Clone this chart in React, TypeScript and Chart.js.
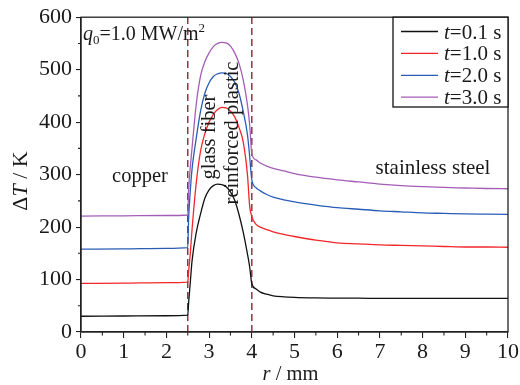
import { useEffect, useRef } from "react";
import { Chart, registerables } from "chart.js";

Chart.register(...registerables);

// r / mm
const radius = [0, 1, 2, 2.5, 2.52, 2.56, 2.6, 2.7, 2.8, 2.9, 3.0, 3.1, 3.2, 3.3, 3.4, 3.5, 3.6, 3.7, 3.8, 3.9, 3.95, 4.0, 4.1, 4.2, 4.35, 4.5, 4.75, 5, 5.5, 6, 6.5, 7, 7.5, 8, 8.5, 9, 9.5, 10];

// ΔT / K for each time
const dT_t01 = [30, 30.5, 31, 32, 55, 95, 135, 190, 225, 255, 271, 279, 282, 281, 277, 267, 251, 224, 190, 148, 124, 92, 82, 76, 72, 69, 67, 66, 65, 64.5, 64.5, 64, 64, 64, 64, 64, 64, 64];
const dT_t10 = [92.5, 93, 94, 95, 115, 150, 195, 285, 345, 378, 400, 415, 424, 428, 427, 421, 410, 390, 362, 298, 240, 220, 205, 200, 195, 191, 186, 182, 175, 170, 168, 166, 165, 164, 163, 162, 162, 161.5];
const dT_t20 = [158, 158.5, 159.5, 161, 215, 270, 310, 370, 421, 455, 475, 487, 492, 494, 493, 487, 476, 455, 420, 375, 335, 290, 275, 269, 262, 257, 252, 248, 242, 237, 234, 231, 229, 227, 226, 225, 224.5, 224];
const dT_t30 = [221, 221.5, 222, 223, 270, 315, 350, 435, 488, 515, 532, 544, 550, 552, 551, 545, 532, 512, 480, 432, 395, 340, 328, 322, 316, 312, 307, 302, 295, 290, 286, 282, 279, 277, 275.5, 274.5, 273.5, 273];

const seriesValues = [dT_t01, dT_t10, dT_t20, dT_t30];
const seriesTimes = ["0.1", "1.0", "2.0", "3.0"];
const seriesColors = ["#111111", "#f2262a", "#2a5cb6", "#a45db6"];

const boundaries = [2.5, 4.0];
const yMin = 0, yMax = 600, yStep = 100;
const xMin = 0, xMax = 10, xStep = 1;

const SERIF = '"Liberation Serif", "DejaVu Serif", "Times New Roman", serif';

type Part = { t: string; it?: boolean; sub?: boolean; sup?: boolean };

function fontFor(p: Part, size: number) {
  const s = p.sub || p.sup ? Math.round(size * 0.65) : size;
  return `${p.it ? "italic " : ""}${s}px ${SERIF}`;
}

function drawRich(ctx: CanvasRenderingContext2D, parts: Part[], x: number, y: number, size: number, align: "left" | "center" | "right") {
  ctx.textAlign = "left";
  ctx.textBaseline = "alphabetic";
  const widths = parts.map((p) => {
    ctx.font = fontFor(p, size);
    return ctx.measureText(p.t).width;
  });
  const total = widths.reduce((a, b) => a + b, 0);
  let cx = align === "center" ? x - total / 2 : align === "right" ? x - total : x;
  parts.forEach((p, i) => {
    ctx.font = fontFor(p, size);
    const dy = p.sub ? size * 0.22 : p.sup ? -size * 0.4 : 0;
    ctx.fillText(p.t, cx, y + dy);
    cx += widths[i];
  });
}

function drawRotated(ctx: CanvasRenderingContext2D, parts: Part[], x: number, y: number, size: number) {
  ctx.save();
  ctx.translate(x, y);
  ctx.rotate(-Math.PI / 2);
  drawRich(ctx, parts, 0, 0, size, "center");
  ctx.restore();
}

const decorPlugin = {
  id: "decor",
  beforeDatasetsDraw(chart: any) {
    const ctx: CanvasRenderingContext2D = chart.ctx;
    const { top, bottom } = chart.chartArea;
    const xs = chart.scales.x;
    ctx.save();
    ctx.strokeStyle = "#8a3a44";
    ctx.lineWidth = 1.5;
    ctx.setLineDash([7, 4]);
    boundaries.forEach((b) => {
      const px = xs.getPixelForValue(b);
      ctx.beginPath();
      ctx.moveTo(px, bottom);
      ctx.lineTo(px, top);
      ctx.stroke();
    });
    ctx.restore();
  },
  afterDraw(chart: any) {
    const ctx: CanvasRenderingContext2D = chart.ctx;
    const { left, right, top, bottom } = chart.chartArea;
    const xs = chart.scales.x;
    const ys = chart.scales.y;
    ctx.save();
    // frame
    ctx.strokeStyle = "#222";
    ctx.lineWidth = 1.3;
    ctx.setLineDash([]);
    ctx.strokeRect(left, top, right - left, bottom - top);
    // minor ticks
    ctx.lineWidth = 1.1;
    ctx.beginPath();
    for (let v = yMin + yStep / 2; v < yMax; v += yStep) {
      const py = ys.getPixelForValue(v);
      ctx.moveTo(left, py);
      ctx.lineTo(left - 3, py);
    }
    for (let v = xMin + xStep / 2; v < xMax; v += xStep) {
      const px = xs.getPixelForValue(v);
      ctx.moveTo(px, bottom);
      ctx.lineTo(px, bottom + 3.5);
    }
    ctx.stroke();

    ctx.fillStyle = "#1a1a1a";
    // annotations
    drawRich(ctx, [{ t: "q", it: true }, { t: "0", sub: true }, { t: "=1.0 MW/m" }, { t: "2", sup: true }], left + 2, 40, 20, "left");
    drawRich(ctx, [{ t: "copper" }], 140, 182, 20.5, "center");
    drawRich(ctx, [{ t: "stainless steel" }], 433, 174, 21, "center");
    drawRotated(ctx, [{ t: "glass fiber" }], 215, 137, 20.5);
    drawRotated(ctx, [{ t: "reinforced plastic" }], 238, 133, 20.5);

    // axis titles
    drawRotated(ctx, [{ t: "Δ" }, { t: "T", it: true }, { t: " / K" }], 27, 181, 22);
    drawRich(ctx, [{ t: "r", it: true }, { t: " / mm" }], (left + right) / 2 - 4, 380, 20.5, "center");

    // legend
    const lx0 = 393, ly0 = top, lx1 = right, ly1 = 107;
    ctx.fillStyle = "#ffffff";
    ctx.fillRect(lx0, ly0, lx1 - lx0, ly1 - ly0);
    ctx.strokeStyle = "#111";
    ctx.lineWidth = 1.3;
    ctx.strokeRect(lx0, ly0, lx1 - lx0, ly1 - ly0);
    seriesTimes.forEach((t, i) => {
      const cy = 31.5 + i * 21.9;
      ctx.strokeStyle = seriesColors[i];
      ctx.lineWidth = 1.3;
      ctx.beginPath();
      ctx.moveTo(401, cy);
      ctx.lineTo(438, cy);
      ctx.stroke();
      ctx.fillStyle = "#1a1a1a";
      drawRich(ctx, [{ t: "t", it: true }, { t: `=${t} s` }], 444, cy + 7, 21, "left");
    });
    ctx.restore();
  },
};

export default function App() {
  const ref = useRef<HTMLCanvasElement | null>(null);

  useEffect(() => {
    let chart: Chart | null = null;
    let cancelled = false;
    const build = () => {
      if (cancelled || !ref.current) return;
      chart = new Chart(ref.current, {
        type: "line",
        data: {
          datasets: seriesValues.map((vals, i) => ({
            label: `t=${seriesTimes[i]} s`,
            data: radius.map((r, j) => ({ x: r, y: vals[j] })),
            borderColor: seriesColors[i],
            backgroundColor: seriesColors[i],
            borderWidth: 1.3,
            pointRadius: 0,
            fill: false,
            cubicInterpolationMode: "monotone" as const,
          })),
        },
        options: {
          animation: false,
          responsive: false,
          devicePixelRatio: 1,
          layout: { padding: { top: 16, right: 11, left: 0, bottom: 0 } },
          plugins: { legend: { display: false }, tooltip: { enabled: false }, title: { display: false } },
          scales: {
            x: {
              type: "linear",
              min: xMin,
              max: xMax,
              afterFit: (s: any) => { s.height = 53; },
              ticks: { stepSize: xStep, color: "#1a1a1a", padding: 1, font: { family: SERIF, size: 22 } },
              grid: { drawOnChartArea: false, drawTicks: true, tickLength: 6, color: "#222", lineWidth: 1.1 },
              border: { display: true, color: "#222", width: 1.3 },
            },
            y: {
              type: "linear",
              min: yMin,
              max: yMax,
              afterFit: (s: any) => { s.width = 81; },
              ticks: { stepSize: yStep, color: "#1a1a1a", padding: 4, font: { family: SERIF, size: 22 } },
              grid: { drawOnChartArea: false, drawTicks: true, tickLength: 5, color: "#222", lineWidth: 1.1 },
              border: { display: true, color: "#222", width: 1.3 },
            },
          },
        },
        plugins: [decorPlugin],
      });
    };
    const fonts: any = (document as any).fonts;
    if (fonts && fonts.load) {
      Promise.all([
        fonts.load('22px "Liberation Serif"'),
        fonts.load('italic 22px "Liberation Serif"'),
      ]).then(build, build);
    } else {
      build();
    }
    return () => {
      cancelled = true;
      if (chart) chart.destroy();
    };
  }, []);

  return (
    <div style={{ position: "absolute", left: 0, top: 0, width: 520, height: 385, background: "#fff" }}>
      <canvas ref={ref} width={520} height={385} style={{ width: 520, height: 385, display: "block" }} />
    </div>
  );
}
